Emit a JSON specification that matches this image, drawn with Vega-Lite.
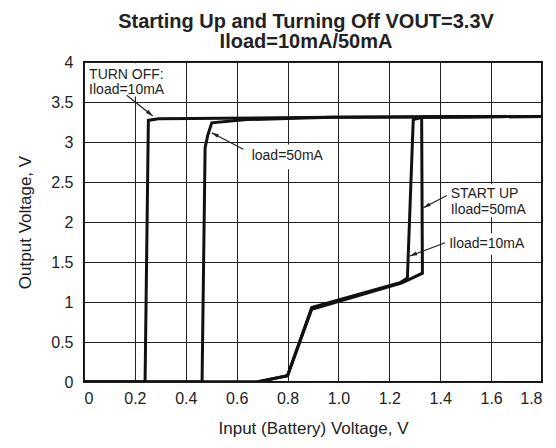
{
  "$schema": "https://vega.github.io/schema/vega-lite/v6.json",
  "width": 458,
  "height": 320,
  "autosize": {"type": "none"},
  "padding": {"left": 84, "top": 62, "right": 14, "bottom": 66},
  "background": "white",
  "config": {
    "font": "Liberation Sans",
    "view": {"stroke": "#111", "strokeWidth": 2},
    "axis": {
      "grid": true,
      "gridColor": "#222",
      "gridWidth": 1,
      "gridOpacity": 1,
      "ticks": false,
      "domain": false,
      "labelFont": "Liberation Sans",
      "labelFontSize": 16,
      "labelColor": "#222",
      "titleFont": "Liberation Sans",
      "titleFontSize": 17,
      "titleFontWeight": "normal",
      "titleColor": "#222"
    }
  },
  "title": {
    "text": ["Starting Up and Turning Off VOUT=3.3V", "Iload=10mA/50mA"],
    "font": "Liberation Sans",
    "fontSize": 20,
    "fontWeight": "bold",
    "lineHeight": 20,
    "color": "#222",
    "anchor": "middle",
    "dx": -7,
    "offset": 2
  },
  "datasets": {
    "curves": [
      {"series": "TurnOff10", "order": 1, "x": 0, "y": 0},
      {"series": "TurnOff10", "order": 2, "x": 0.24, "y": 0},
      {"series": "TurnOff10", "order": 3, "x": 0.253, "y": 3.27},
      {"series": "TurnOff10", "order": 4, "x": 0.292, "y": 3.29},
      {"series": "TurnOff10", "order": 5, "x": 0.97, "y": 3.31},
      {"series": "TurnOff10", "order": 6, "x": 1.8, "y": 3.32},
      {"series": "TurnOff50", "order": 1, "x": 0, "y": 0},
      {"series": "TurnOff50", "order": 2, "x": 0.464, "y": 0},
      {"series": "TurnOff50", "order": 3, "x": 0.476, "y": 2.93},
      {"series": "TurnOff50", "order": 4, "x": 0.486, "y": 3.08},
      {"series": "TurnOff50", "order": 5, "x": 0.502, "y": 3.24},
      {"series": "TurnOff50", "order": 6, "x": 0.64, "y": 3.28},
      {"series": "TurnOff50", "order": 7, "x": 0.97, "y": 3.31},
      {"series": "TurnOff50", "order": 8, "x": 1.8, "y": 3.32},
      {"series": "StartUp10", "order": 1, "x": 0, "y": 0},
      {"series": "StartUp10", "order": 2, "x": 0.68, "y": 0},
      {"series": "StartUp10", "order": 3, "x": 0.8, "y": 0.08},
      {"series": "StartUp10", "order": 4, "x": 0.895, "y": 0.93},
      {"series": "StartUp10", "order": 5, "x": 1.242, "y": 1.24},
      {"series": "StartUp10", "order": 6, "x": 1.271, "y": 1.3},
      {"series": "StartUp10", "order": 7, "x": 1.294, "y": 3.28},
      {"series": "StartUp10", "order": 8, "x": 1.33, "y": 3.31},
      {"series": "StartUp10", "order": 9, "x": 1.8, "y": 3.32},
      {"series": "StartUp50", "order": 1, "x": 0, "y": 0},
      {"series": "StartUp50", "order": 2, "x": 0.68, "y": 0},
      {"series": "StartUp50", "order": 3, "x": 0.8, "y": 0.08},
      {"series": "StartUp50", "order": 4, "x": 0.895, "y": 0.91},
      {"series": "StartUp50", "order": 5, "x": 1.25, "y": 1.24},
      {"series": "StartUp50", "order": 6, "x": 1.33, "y": 1.36},
      {"series": "StartUp50", "order": 7, "x": 1.327, "y": 3.31},
      {"series": "StartUp50", "order": 8, "x": 1.8, "y": 3.32}
    ],
    "boxes": [
      {"x": 0.006, "x2": 0.35, "y": 3.985, "y2": 3.57},
      {"x": 0.645, "x2": 0.97, "y": 2.97, "y2": 2.66},
      {"x": 1.423, "x2": 1.773, "y": 2.475, "y2": 2.06},
      {"x": 1.423, "x2": 1.76, "y": 1.86, "y2": 1.59}
    ],
    "notes": [
      {"label": "TURN OFF:", "x": 0.02, "y": 3.785},
      {"label": "Iload=10mA", "x": 0.02, "y": 3.6},
      {"label": "load=50mA", "x": 0.659, "y": 2.77},
      {"label": "START UP", "x": 1.441, "y": 2.3},
      {"label": "Iload=50mA", "x": 1.441, "y": 2.1},
      {"label": "Iload=10mA", "x": 1.435, "y": 1.67}
    ],
    "arrows": [
      {"x": 0.168, "y": 3.585, "x2": 0.27, "y2": 3.325, "heading": 130},
      {"x": 0.626, "y": 2.909, "x2": 0.502, "y2": 3.116, "heading": 298},
      {"x": 1.426, "y": 2.331, "x2": 1.334, "y2": 2.179, "heading": 242},
      {"x": 1.419, "y": 1.741, "x2": 1.281, "y2": 1.575, "heading": 249}
    ]
  },
  "encoding": {
    "x": {
      "field": "x",
      "type": "quantitative",
      "scale": {"domain": [0, 1.8], "nice": false, "zero": false},
      "axis": {
        "title": "Input (Battery) Voltage, V",
        "values": [0, 0.2, 0.4, 0.6, 0.8, 1.0, 1.2, 1.4, 1.6, 1.8],
        "labelExpr": "datum.value == 0 ? '0' : format(datum.value, '.1f')",
        "labelPadding": 8,
        "titlePadding": 14
      }
    },
    "y": {
      "field": "y",
      "type": "quantitative",
      "scale": {"domain": [0, 4], "nice": false},
      "axis": {
        "title": "Output Voltage, V",
        "values": [0, 0.5, 1, 1.5, 2, 2.5, 3, 3.5, 4],
        "labelExpr": "format(datum.value, '~g')",
        "labelPadding": 11,
        "titlePadding": 16
      }
    }
  },
  "layer": [
    {
      "data": {"name": "curves"},
      "mark": {"type": "line", "color": "#111", "strokeWidth": 3, "strokeJoin": "miter", "clip": true},
      "encoding": {
        "detail": {"field": "series"},
        "order": {"field": "order", "type": "quantitative"}
      }
    },
    {
      "data": {"name": "boxes"},
      "mark": {"type": "rect", "color": "white", "opacity": 1},
      "encoding": {
        "x2": {"field": "x2"},
        "y2": {"field": "y2"}
      }
    },
    {
      "data": {"name": "notes"},
      "mark": {"type": "text", "align": "left", "baseline": "alphabetic", "fontSize": 14, "font": "Liberation Sans", "color": "#222"},
      "encoding": {"text": {"field": "label"}}
    },
    {
      "data": {"name": "arrows"},
      "mark": {"type": "rule", "color": "#222", "strokeWidth": 1.2},
      "encoding": {
        "x2": {"field": "x2"},
        "y2": {"field": "y2"}
      }
    },
    {
      "data": {"name": "arrows"},
      "mark": {"type": "point", "shape": "M0,0L0.5,1.8L-0.5,1.8Z", "filled": true, "color": "#222", "size": 64, "opacity": 1},
      "encoding": {
        "x": {"field": "x2", "type": "quantitative"},
        "y": {"field": "y2", "type": "quantitative"},
        "angle": {"field": "heading", "type": "quantitative", "scale": null}
      }
    }
  ]
}
